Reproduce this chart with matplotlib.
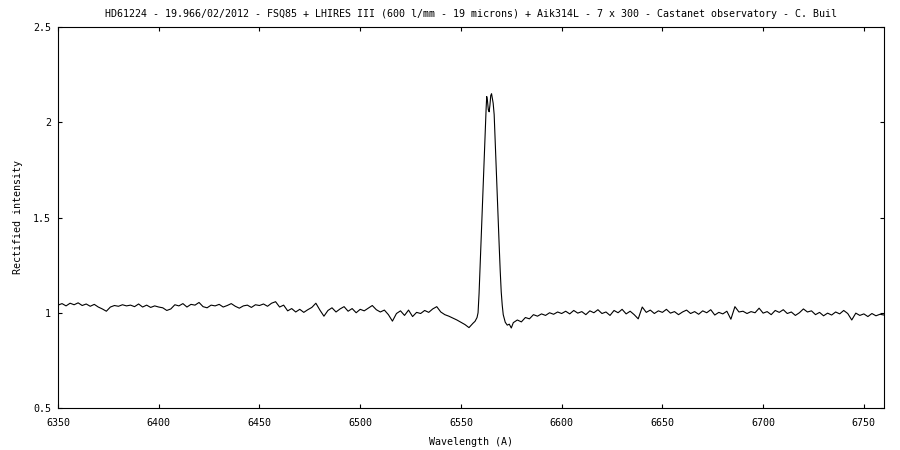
import numpy as np
import matplotlib
matplotlib.use("Agg")
import matplotlib.pyplot as plt

# Blue continuum: 6350..6554 step 2 A
blue_wl = np.arange(6350, 6555, 2)
blue_flux = [
    1.040, 1.048, 1.036, 1.050, 1.042, 1.052, 1.038, 1.046, 1.034, 1.044,
    1.030, 1.020, 1.008, 1.030, 1.038, 1.034, 1.042, 1.036, 1.040, 1.032,
    1.046, 1.030, 1.040, 1.028, 1.036, 1.030, 1.026, 1.012, 1.020, 1.042,
    1.036, 1.048, 1.030, 1.044, 1.040, 1.054, 1.032, 1.026, 1.040, 1.036,
    1.044, 1.030, 1.038, 1.048, 1.034, 1.024, 1.036, 1.040, 1.028, 1.042,
    1.038, 1.046, 1.034, 1.050, 1.058, 1.030, 1.040, 1.010, 1.022, 1.004,
    1.018, 1.002, 1.016, 1.028, 1.050, 1.014, 0.982, 1.012, 1.026, 1.004,
    1.020, 1.032, 1.008, 1.022, 1.000, 1.018, 1.010, 1.024, 1.038, 1.016,
    1.004, 1.014, 0.990, 0.956, 0.996, 1.010, 0.986, 1.014, 0.980, 1.002,
    0.996, 1.012, 1.002, 1.020, 1.032, 1.004, 0.990, 0.982, 0.972, 0.962,
    0.950, 0.938, 0.922,
]

# H-alpha emission line region
line_wl = [6556, 6557, 6558, 6558.5, 6559, 6559.5, 6560, 6560.5, 6561, 6561.5,
           6562, 6562.5, 6562.8, 6563.2, 6563.6, 6564.0, 6564.4, 6564.8, 6565.2, 6565.6,
           6566.0, 6566.5, 6567, 6567.5, 6568, 6568.5, 6569, 6569.5, 6570, 6570.5,
           6571, 6572, 6573, 6574, 6575]
line_flux = [0.945, 0.955, 0.975, 1.000, 1.100, 1.240, 1.380, 1.520, 1.660, 1.800,
             1.950, 2.070, 2.135, 2.110, 2.065, 2.055, 2.090, 2.140, 2.150, 2.125,
             2.100, 2.040, 1.900, 1.760, 1.620, 1.480, 1.350, 1.220, 1.110, 1.040,
             0.990, 0.950, 0.935, 0.940, 0.920]

# Red continuum: 6576..6760 step 2 A
red_wl = np.arange(6576, 6761, 2)
red_flux = [
    0.948, 0.962, 0.952, 0.975, 0.968, 0.990, 0.982, 0.994, 0.986, 1.000,
    0.992, 1.004,
    0.996, 1.008, 0.994, 1.012, 0.998, 1.006, 0.990, 1.010, 1.000, 1.016,
    0.996, 1.004, 0.986, 1.012, 1.000, 1.018, 0.994, 1.008, 0.990, 0.968,
    1.030, 1.002, 1.014, 0.996, 1.010, 1.002, 1.018, 0.998, 1.006, 0.990,
    1.004, 1.014, 0.996, 1.006, 0.992, 1.010, 1.000, 1.016, 0.988, 1.002,
    0.994, 1.008, 0.966, 1.032, 1.004, 1.008, 0.996, 1.006, 1.000, 1.024,
    0.998, 1.006, 0.990, 1.012, 1.002, 1.016, 0.996, 1.004, 0.986, 1.000,
    1.020, 1.004, 1.010, 0.990, 1.002, 0.984, 0.998, 0.988, 1.004, 0.994,
    1.012, 0.996, 0.962, 0.998, 0.986, 0.994, 0.980, 0.996, 0.984, 0.992,
    0.988,
]

wavelength = np.concatenate([blue_wl, line_wl, red_wl])
intensity = np.concatenate([blue_flux, line_flux, red_flux])

x_ticks = [6350, 6400, 6450, 6500, 6550, 6600, 6650, 6700, 6750]
y_ticks = [0.5, 1, 1.5, 2, 2.5]
y_tick_labels = ["0.5", "1", "1.5", "2", "2.5"]

title = ("HD61224 - 19.966/02/2012 - FSQ85 + LHIRES III (600 l/mm - 19 microns) "
         "+ Aik314L - 7 x 300 - Castanet observatory - C. Buil")

plt.rcParams['font.family'] = ['DejaVu Sans Mono']
fs = 7.2

fig = plt.figure(figsize=(9, 4.5), dpi=100)
ax = fig.add_axes([58/900, 42/450, 826/900, 381/450])
ax.plot(wavelength, intensity, color='black', linewidth=0.8)
ax.set_xlim(6350, 6760)
ax.set_ylim(0.5, 2.5)
ax.set_xticks(x_ticks)
ax.set_xticklabels([str(t) for t in x_ticks])
ax.set_yticks(y_ticks)
ax.set_yticklabels(y_tick_labels)
ax.tick_params(direction='in', length=3, width=0.8, top=True, right=True,
               labelsize=fs, colors='black')
ax.tick_params(axis='x', pad=7)
ax.tick_params(axis='y', pad=5)
for s in ax.spines.values():
    s.set_linewidth(0.8)
ax.set_title(title, fontsize=fs, pad=7)
ax.set_xlabel("Wavelength (A)", fontsize=fs, labelpad=7)
ax.set_ylabel("Rectified intensity", fontsize=fs, labelpad=7)

fig.savefig("out.png", dpi=100)
